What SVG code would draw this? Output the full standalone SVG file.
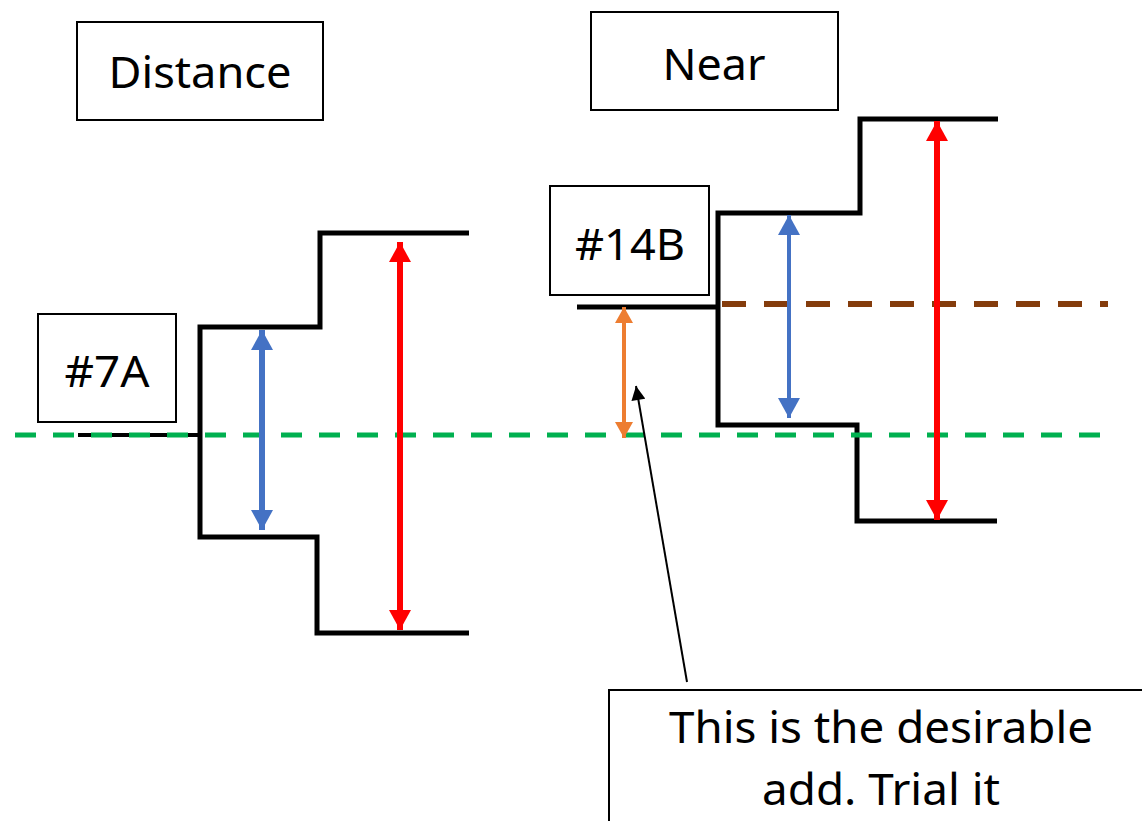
<svg xmlns="http://www.w3.org/2000/svg" width="1142" height="821" viewBox="0 0 1142 821">
<style>
.box{fill:#fff;stroke:#000;stroke-width:2}
.lbl{font-family:"Noto Sans","Open Sans",sans-serif;font-size:44px;fill:#000;text-anchor:middle}
.step{fill:none;stroke:#000;stroke-width:5;stroke-linejoin:miter}
</style>
<defs>
<marker id="ab" markerUnits="userSpaceOnUse" markerWidth="24" markerHeight="22" refX="20" refY="11" orient="auto-start-reverse" viewBox="0 0 20 22"><path d="M0,0 L20,11 L0,22 z" fill="#4472C4"/></marker>
<marker id="ar" markerUnits="userSpaceOnUse" markerWidth="24" markerHeight="22" refX="20" refY="11" orient="auto-start-reverse" viewBox="0 0 20 22"><path d="M0,0 L20,11 L0,22 z" fill="#FF0000"/></marker>
<marker id="ao" markerUnits="userSpaceOnUse" markerWidth="20" markerHeight="18" refX="16" refY="9" orient="auto-start-reverse" viewBox="0 0 16 18"><path d="M0,0 L16,9 L0,18 z" fill="#ED7D31"/></marker>
<marker id="ak" markerUnits="userSpaceOnUse" markerWidth="16" markerHeight="14" refX="14" refY="7" orient="auto" viewBox="0 0 14 14"><path d="M0,0 L14,7 L0,14 z" fill="#000"/></marker>
</defs>
<g id="shape-left">
<line x1="78" y1="435" x2="200" y2="435" stroke="#000" stroke-width="4"/>
<polyline class="step" points="469,233 320,233 320,327 200,327 200,537 317,537 317,633 469,633"/>
</g>
<g id="shape-right">
<line x1="577" y1="307" x2="718" y2="307" stroke="#000" stroke-width="5"/>
<polyline class="step" points="998,119 860,119 860,213 718,213 718,425 857,425 857,521 997,521"/>
</g>
<g id="connectors">
<line x1="15" y1="435" x2="1114" y2="435" stroke="#00B050" stroke-width="5" stroke-dasharray="21,17"/>
<line x1="722" y1="304" x2="1108" y2="304" stroke="#843C0C" stroke-width="6" stroke-dasharray="24,18"/>
<line x1="262" y1="330" x2="262" y2="530" stroke="#4472C4" stroke-width="6" marker-start="url(#ab)" marker-end="url(#ab)"/>
<line x1="400" y1="242" x2="400" y2="630" stroke="#FF0000" stroke-width="6" marker-start="url(#ar)" marker-end="url(#ar)"/>
<line x1="789" y1="215" x2="789" y2="418" stroke="#4472C4" stroke-width="4" marker-start="url(#ab)" marker-end="url(#ab)"/>
<line x1="937" y1="121" x2="937" y2="520" stroke="#FF0000" stroke-width="6" marker-start="url(#ar)" marker-end="url(#ar)"/>
<line x1="624" y1="307" x2="624" y2="438" stroke="#ED7D31" stroke-width="4" marker-start="url(#ao)" marker-end="url(#ao)"/>
<line x1="687" y1="682" x2="636" y2="386" stroke="#000" stroke-width="2" marker-end="url(#ak)"/>
</g>
<g id="distance"><rect class="box" x="77" y="22" width="246" height="98"/><text class="lbl" x="200" y="88" textLength="183" lengthAdjust="spacingAndGlyphs">Distance</text></g>
<g id="near"><rect class="box" x="591" y="12" width="247" height="98"/><text class="lbl" x="714" y="80" textLength="103" lengthAdjust="spacingAndGlyphs">Near</text></g>
<g id="n14b"><rect class="box" x="550" y="186" width="159" height="109"/><text class="lbl" x="630" y="260" textLength="110" lengthAdjust="spacingAndGlyphs">#14B</text></g>
<g id="n7a"><rect class="box" x="38" y="314" width="138" height="108"/><text class="lbl" x="107" y="387" textLength="85" lengthAdjust="spacingAndGlyphs">#7A</text></g>
<g id="note"><rect class="box" x="609" y="690" width="540" height="140"/>
<text class="lbl" x="881" y="743" textLength="424" lengthAdjust="spacingAndGlyphs">This is the desirable</text>
<text class="lbl" x="881" y="805" textLength="238" lengthAdjust="spacingAndGlyphs">add. Trial it</text></g>
</svg>
